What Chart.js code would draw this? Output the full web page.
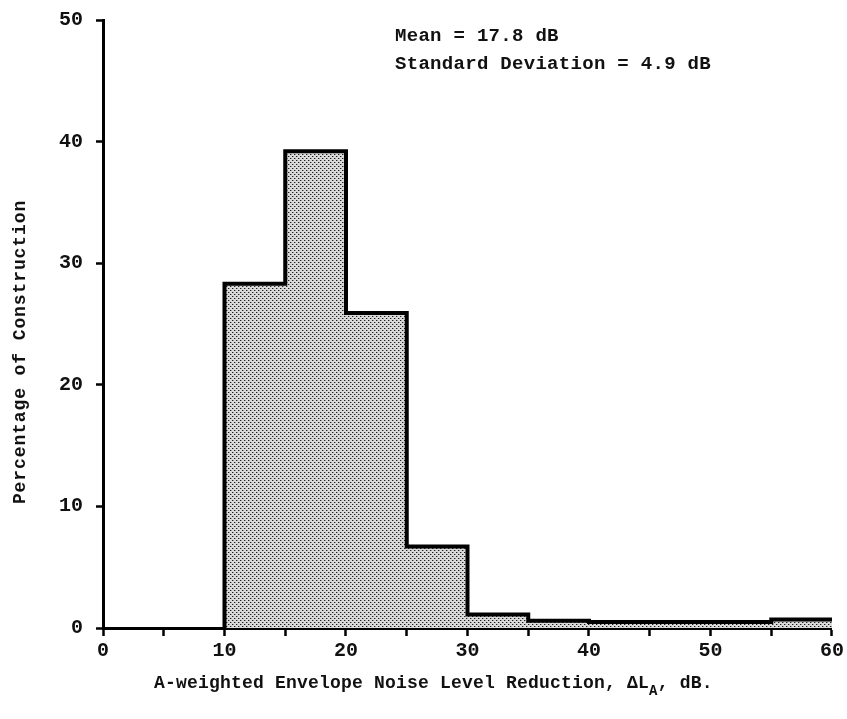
<!DOCTYPE html>
<html>
<head>
<meta charset="utf-8">
<script src="https://cdn.jsdelivr.net/npm/chart.js@4"></script>
<style>
  html, body { margin: 0; padding: 0; background: #fff; }
</style>
</head>
<body>
<canvas id="histChart" width="847" height="719"></canvas>
<script>
// histogram classes: left edge of each 5 dB bin and the percentage in it
var binEdges = [10, 15, 20, 25, 30, 35, 40, 45, 50, 55];
var binWidth = 5;
var percentages = [28.3, 39.2, 25.9, 6.7, 1.1, 0.6, 0.5, 0.5, 0.5, 0.7];

// axes
var xTickMarks = [0, 5, 10, 15, 20, 25, 30, 35, 40, 45, 50, 55, 60];
var xTickLabels = [0, 10, 20, 30, 40, 50, 60];
var yTicks = [0, 10, 20, 30, 40, 50];

// texts
var statLines = ['Mean = 17.8 dB', 'Standard Deviation = 4.9 dB'];
var xTitleMain = 'A-weighted Envelope Noise Level Reduction, \u0394L';
var xTitleSub = 'A';
var xTitleEnd = ', dB.';
var yTitle = 'Percentage of Construction';

var typeFont = '"Liberation Mono", "DejaVu Sans Mono", monospace';

// stepped outline points built from the bins
function buildStepPoints() {
    var pts = [{ x: binEdges[0], y: 0 }];
    for (var i = 0; i < binEdges.length; i++) {
        pts.push({ x: binEdges[i], y: percentages[i] });
    }
    var last = binEdges.length - 1;
    pts.push({ x: binEdges[last] + binWidth, y: percentages[last] });
    return pts;
}

// dotted screen fill like the printed figure
function makeStipple() {
    var c = document.createElement('canvas');
    c.width = 4;
    c.height = 4;
    var g = c.getContext('2d');
    g.fillStyle = '#d9d9d9';
    g.fillRect(0, 0, 4, 4);
    g.fillStyle = '#1e1e1e';
    g.fillRect(0, 0, 1, 1);
    g.fillRect(2, 2, 1, 1);
    g.fillStyle = '#9a9a9a';
    g.fillRect(1, 0, 1, 1);
    g.fillRect(3, 2, 1, 1);
    return g.createPattern(c, 'repeat');
}

var textPlugin = {
    id: 'typedText',
    afterDraw: function (chart) {
        var ctx = chart.ctx;
        ctx.save();
        ctx.fillStyle = '#111';
        ctx.textBaseline = 'middle';
        ctx.textAlign = 'left';

        // statistics box
        ctx.font = 'bold 19px ' + typeFont;
        ctx.letterSpacing = '0.3px';
        ctx.fillText(statLines[0], 395, 36);
        ctx.fillText(statLines[1], 395, 64);

        // x axis title with subscript
        ctx.font = 'bold 18px ' + typeFont;
        ctx.letterSpacing = '0.2px';
        var x = 154, y = 683;
        ctx.fillText(xTitleMain, x, y);
        x += ctx.measureText(xTitleMain).width;
        ctx.font = 'bold 14px ' + typeFont;
        ctx.fillText(xTitleSub, x, y + 8);
        x += ctx.measureText(xTitleSub).width;
        ctx.font = 'bold 18px ' + typeFont;
        ctx.fillText(xTitleEnd, x, y);

        // y axis title
        ctx.translate(20, 352);
        ctx.rotate(-Math.PI / 2);
        ctx.textAlign = 'center';
        ctx.font = 'bold 18px ' + typeFont;
        ctx.letterSpacing = '0.9px';
        ctx.fillText(yTitle, 0, 0);
        ctx.restore();
    }
};

var ctx = document.getElementById('histChart');

var histChart = new Chart(ctx, {
    type: 'line',
    data: {
        datasets: [{
            data: buildStepPoints(),
            stepped: true,
            fill: 'origin',
            backgroundColor: makeStipple(),
            borderColor: '#000',
            borderWidth: 4,
            pointRadius: 0,
            tension: 0
        }]
    },
    options: {
        responsive: false,
        animation: false,
        layout: { padding: { top: 20, right: 15, left: 0, bottom: 0 } },
        plugins: {
            legend: { display: false },
            tooltip: { enabled: false }
        },
        scales: {
            x: {
                type: 'linear',
                min: 0,
                max: 60,
                afterBuildTicks: function (scale) {
                    scale.ticks = xTickMarks.map(function (v) { return { value: v }; });
                },
                afterFit: function (scale) { scale.height = 91; },
                border: { display: true, color: '#000', width: 3 },
                grid: {
                    drawOnChartArea: false,
                    drawTicks: true,
                    tickLength: 8,
                    tickWidth: 2.5,
                    tickColor: '#000'
                },
                ticks: {
                    autoSkip: false,
                    maxRotation: 0,
                    padding: 3,
                    color: '#111',
                    font: { family: typeFont, size: 20, weight: 'bold' },
                    callback: function (v) {
                        return xTickLabels.indexOf(v) >= 0 ? String(v) : '';
                    }
                }
            },
            y: {
                min: 0,
                max: 50,
                afterBuildTicks: function (scale) {
                    scale.ticks = yTicks.map(function (v) { return { value: v }; });
                },
                afterFit: function (scale) {
                    scale.width = 103;
                    scale.paddingTop = 0;
                },
                border: { display: true, color: '#000', width: 3 },
                grid: {
                    drawOnChartArea: false,
                    drawTicks: true,
                    tickLength: 7,
                    tickWidth: 2.5,
                    tickColor: '#000'
                },
                ticks: {
                    padding: 13,
                    color: '#111',
                    font: { family: typeFont, size: 20, weight: 'bold' }
                }
            }
        }
    },
    plugins: [textPlugin]
});
</script>
</body>
</html>
